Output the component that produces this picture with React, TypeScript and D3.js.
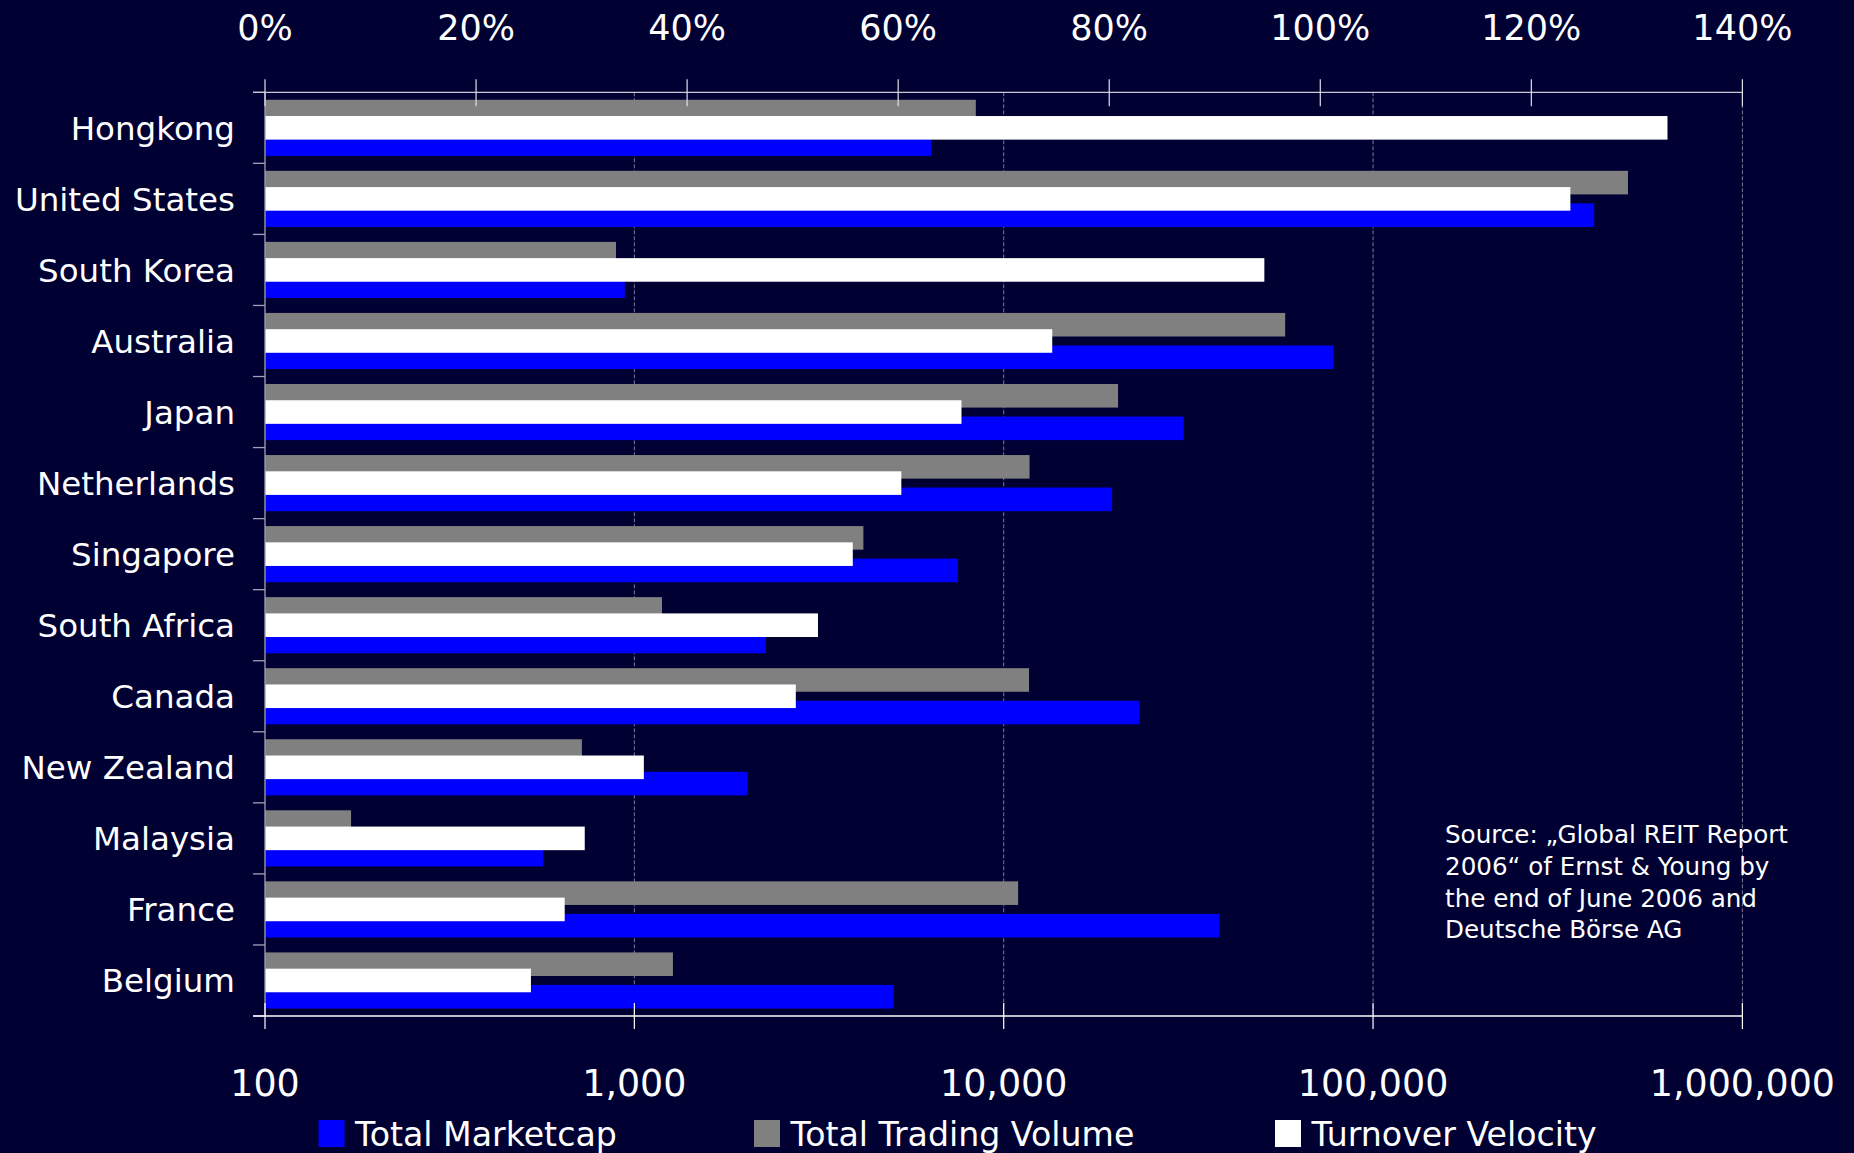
import React from "react";
import * as d3 from "d3";

const categories = [
  "Hongkong", "United States", "South Korea", "Australia", "Japan", "Netherlands",
  "Singapore", "South Africa", "Canada", "New Zealand", "Malaysia", "France", "Belgium",
];
const totalMarketcap = [6356, 396900, 942, 78140, 30730, 19660, 7520, 2270, 23320, 2025, 566, 38300, 5040];
const totalTradingVolume = [8404, 490000, 892, 57820, 20400, 11750, 4170, 1188, 11710, 721, 171, 10940, 1272];
const turnoverVelocity = [132.9, 123.7, 94.7, 74.6, 66.0, 60.3, 55.7, 52.4, 50.3, 35.9, 30.3, 28.4, 25.2];

const logTicks = [100, 1000, 10000, 100000, 1000000];
const pctTicks = [0, 20, 40, 60, 80, 100, 120, 140];
const seriesNames = ["Total Marketcap", "Total Trading Volume", "Turnover Velocity"];
const sourceLines = [
  "Source: \u201EGlobal REIT Report",
  "2006\u201C of Ernst & Young by",
  "the end of June 2006 and",
  "Deutsche B\u00F6rse AG",
];

const W = 1854;
const H = 1153;
const BG = "#000033";
const BLUE = "#0000ff";
const GRAY = "#808080";
const WHITE = "#ffffff";
const FONT = "'DejaVu Sans', Verdana, sans-serif";

export default function App() {
  const left = 265;
  const right = 1742.4;
  const top = 92.3;
  const bottom = 1016;

  const x = d3.scaleLog().domain([100, 1000000]).range([left, right]);
  const xp = d3.scaleLinear().domain([0, 140]).range([left, right]);
  const y = d3.scaleBand<string>().domain(categories).range([top, bottom]).padding(0);

  const band = y.bandwidth();
  const h = band * 0.332;
  const step = band * 0.229;
  const pad = (band - 2 * step - h) / 2;

  const fmt = d3.format(",");
  const legendColors = [BLUE, GRAY, WHITE];
  const legendX = [318.5, 754, 1275];

  return (
    <svg
      width={W}
      height={H}
      style={{ position: "absolute", left: 0, top: 0, display: "block" }}
      fontFamily={FONT}
    >
      <rect x={0} y={0} width={W} height={H} fill={BG} />

      {/* gridlines */}
      {logTicks.slice(1).map((t) => (
        <line
          key={"g" + t}
          x1={x(t)}
          x2={x(t)}
          y1={top}
          y2={bottom}
          stroke="#7a7a99"
          strokeWidth={1}
          strokeDasharray="4,2"
        />
      ))}

      {/* bars: gray, blue, then white on top */}
      {categories.map((c, i) => {
        const b = y(c) as number;
        return (
          <g key={c}>
            <rect x={left} y={b + pad} width={x(totalTradingVolume[i]) - left} height={h} fill={GRAY} />
            <rect x={left} y={b + pad + 2 * step} width={x(totalMarketcap[i]) - left} height={h} fill={BLUE} />
            <rect x={left} y={b + pad + step} width={xp(turnoverVelocity[i]) - left} height={h} fill={WHITE} />
          </g>
        );
      })}

      {/* left axis */}
      <line x1={left} x2={left} y1={top} y2={bottom} stroke="#a0a0b4" strokeWidth={1.3} />
      {categories.concat(["__end"]).map((c, i) => {
        const yy = i < categories.length ? (y(c) as number) : bottom;
        return <line key={"ct" + i} x1={left - 12} x2={left} y1={yy} y2={yy} stroke="#a0a0b4" strokeWidth={1.3} />;
      })}
      {categories.map((c) => (
        <text
          key={"cl" + c}
          x={235}
          y={(y(c) as number) + band / 2 + 12}
          textAnchor="end"
          fill={WHITE}
          fontSize={32.5}
        >
          {c}
        </text>
      ))}

      {/* top axis (percent) */}
      <line x1={left - 12} x2={right} y1={top} y2={top} stroke="#c8c8d4" strokeWidth={1.3} />
      {pctTicks.map((t) => (
        <g key={"pt" + t}>
          <line x1={xp(t)} x2={xp(t)} y1={top - 13} y2={top + 14} stroke="#e0e0e8" strokeWidth={1.2} />
          <text x={xp(t)} y={40} textAnchor="middle" fill={WHITE} fontSize={35}>
            {t + "%"}
          </text>
        </g>
      ))}

      {/* bottom axis (log) */}
      <line x1={left - 12} x2={right} y1={bottom} y2={bottom} stroke={WHITE} strokeWidth={1.3} />
      {logTicks.map((t) => (
        <g key={"lt" + t}>
          <line x1={x(t)} x2={x(t)} y1={bottom - 13} y2={bottom + 13} stroke={WHITE} strokeWidth={1.2} />
          <text x={x(t)} y={1096} textAnchor="middle" fill={WHITE} fontSize={36.4}>
            {fmt(t)}
          </text>
        </g>
      ))}

      {/* source note */}
      {sourceLines.map((s, i) => (
        <text key={"s" + i} x={1445} y={843 + i * 31.8} fill={WHITE} fontSize={24.6}>
          {s}
        </text>
      ))}

      {/* legend */}
      {seriesNames.map((n, i) => (
        <g key={"lg" + n}>
          <rect x={legendX[i]} y={1120} width={26} height={27} fill={legendColors[i]} />
          <text x={legendX[i] + 36.5} y={1146} fill={WHITE} fontSize={33.2}>
            {n}
          </text>
        </g>
      ))}
    </svg>
  );
}
